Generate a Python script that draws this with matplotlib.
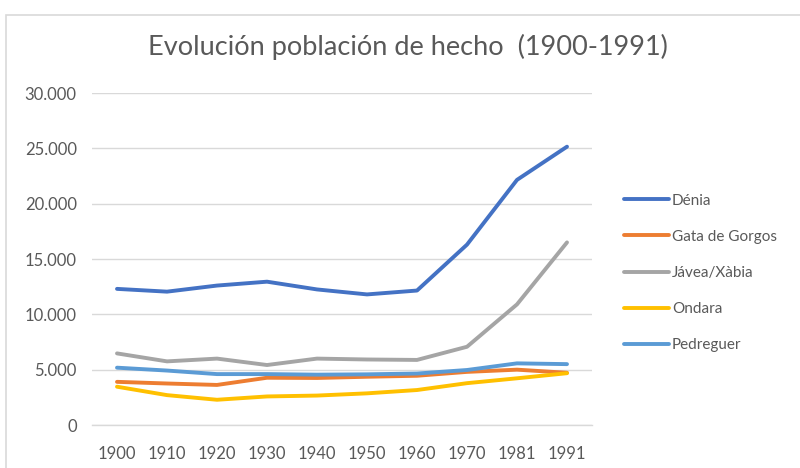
import matplotlib
matplotlib.use("Agg")
import matplotlib.pyplot as plt
from matplotlib.patches import Rectangle
from matplotlib.ticker import FuncFormatter

years = ["1900", "1910", "1920", "1930", "1940", "1950", "1960", "1970", "1981", "1991"]
denia = [12300, 12050, 12600, 12950, 12250, 11800, 12150, 16300, 22150, 25150]
gata = [3900, 3750, 3620, 4270, 4250, 4360, 4450, 4800, 5000, 4720]
javea = [6470, 5750, 6000, 5420, 6000, 5920, 5880, 7070, 10900, 16500]
ondara = [3460, 2700, 2280, 2580, 2660, 2860, 3160, 3780, 4220, 4680]
pedreguer = [5180, 4920, 4600, 4600, 4550, 4580, 4650, 4970, 5570, 5500]

series_names = ["Dénia", "Gata de Gorgos", "Jávea/Xàbia", "Ondara", "Pedreguer"]
series_vals = [denia, gata, javea, ondara, pedreguer]
colors = ["#4472C4", "#ED7D31", "#A5A5A5", "#FFC000", "#5B9BD5"]

plt.rcParams['font.family'] = ['Lato', 'DejaVu Sans']

W, H = 800, 468
fig = plt.figure(figsize=(W / 100, H / 100), dpi=100)
fig.patch.set_facecolor("white")

# chart border
fig.patches.append(Rectangle((6 / W, -0.1), 1.2, (H - 15) / H + 0.1, transform=fig.transFigure,
                             fill=False, edgecolor="#D9D9D9", linewidth=1.2))

left, right = 92 / W, 592 / W
bottom, top = (H - 425) / H, (H - 93) / H
ax = fig.add_axes([left, bottom, right - left, top - bottom])

x = list(range(len(years)))
for name, vals, c in zip(series_names, series_vals, colors):
    ax.plot(x, vals, color=c, linewidth=2.8, label=name, solid_capstyle="round", solid_joinstyle="round")

ax.set_xlim(-0.5, len(years) - 0.5)
ax.set_ylim(0, 30000)
ax.set_yticks(range(0, 30001, 5000))
ax.yaxis.set_major_formatter(FuncFormatter(lambda v, p: f"{int(v):,}".replace(",", ".")))
ax.set_xticks(x)
ax.set_xticklabels(years)
ax.tick_params(axis="both", length=0, labelsize=12, colors="#595959")
ax.tick_params(axis="y", pad=11)
ax.tick_params(axis="x", pad=15)
ax.grid(axis="y", color="#D9D9D9", linewidth=1)
ax.set_axisbelow(True)
for s in ["top", "right", "left"]:
    ax.spines[s].set_visible(False)
ax.spines["bottom"].set_color("#D9D9D9")
ax.spines["bottom"].set_linewidth(1)

fig.text(408 / W, 1 - 47 / H, "Evolución población de hecho  (1900-1991)", ha="center", va="center",
         fontsize=19.5, color="#595959")

leg = ax.legend(loc="upper left", bbox_to_anchor=(616 / W, 1 - 186 / H), bbox_transform=fig.transFigure,
                frameon=False, fontsize=11, handlelength=3.0, handletextpad=0.15, labelspacing=1.45,
                borderpad=0)
for t in leg.get_texts():
    t.set_color("#595959")

fig.savefig("out.png", dpi=100, facecolor="white")
